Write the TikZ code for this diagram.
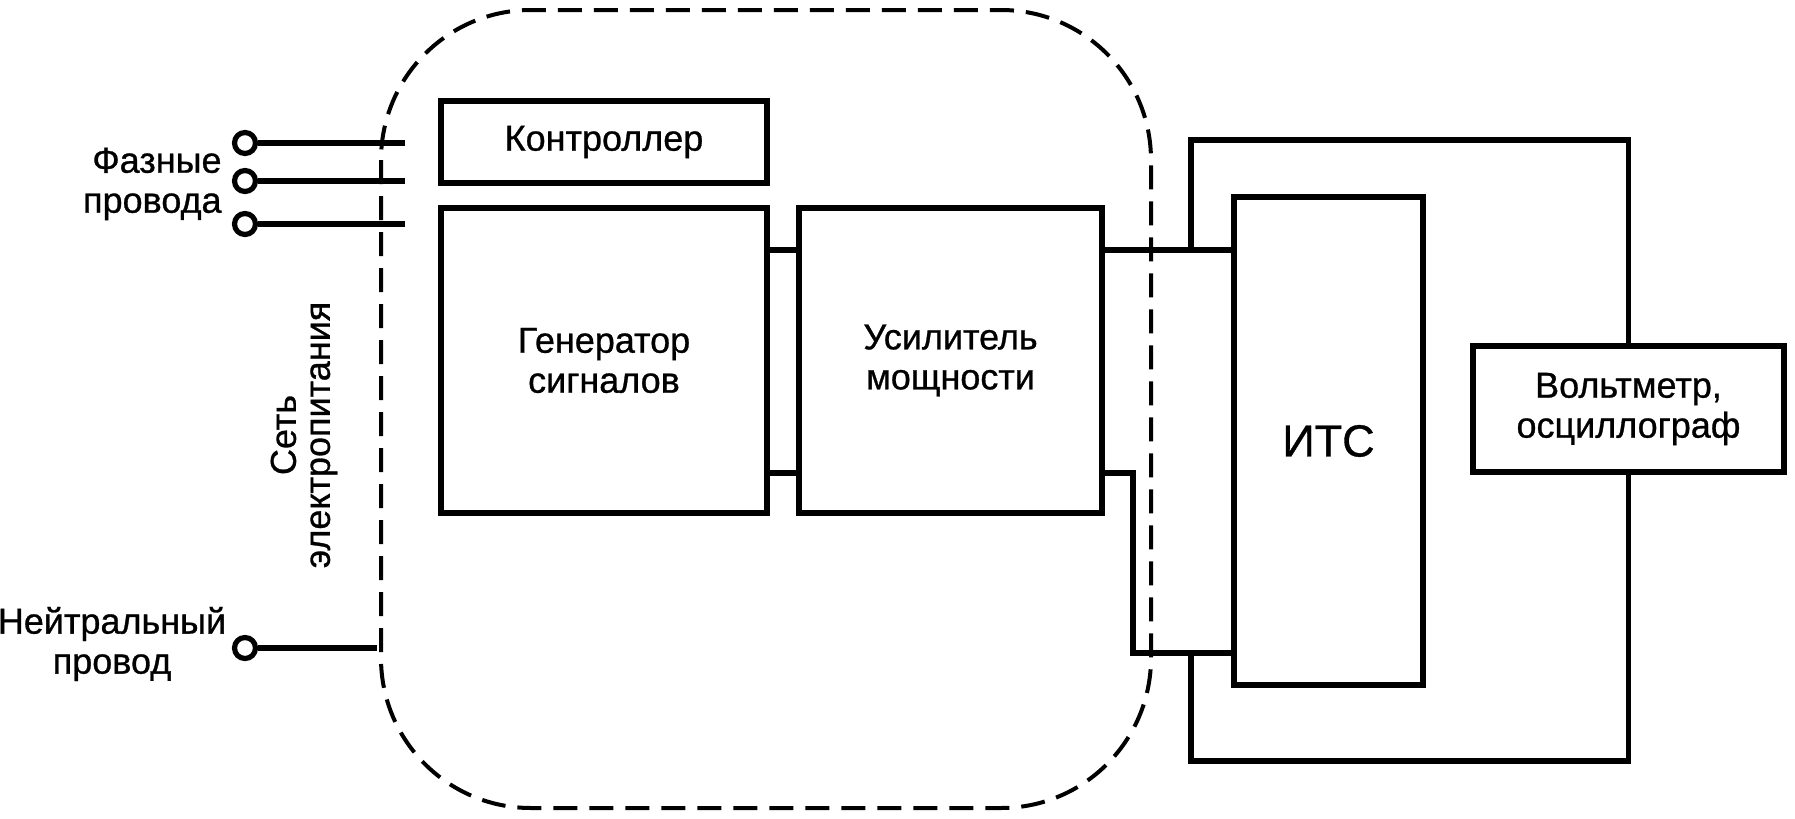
\documentclass[tikz,border=0pt]{standalone}
\usepackage{fontspec}
\setmainfont{Liberation Sans}[FakeBold=0.8]
\begin{document}
\begin{tikzpicture}[x=0.5pt,y=-0.5pt,
  every node/.style={font=\fontsize{18}{20}\selectfont},
  blk/.style={draw,line width=2.8pt,inner sep=0pt,align=center},
  wire/.style={line width=2.8pt},
  term/.style={circle,draw,line width=2.6pt,minimum size=10.5pt,inner sep=0pt,fill=white},
  dashbound/.style={line width=2pt,dash pattern=on 12pt off 6pt}
]
\useasboundingbox (0,0) rectangle (1795,819);
% dashed boundary
\draw[dashbound,rounded corners=75pt] (381,10) rectangle (1151,808);
% blocks
\node[blk,minimum width=163pt,minimum height=41pt] (ctrl) at (604,142) {Контроллер};
\node[blk,minimum width=163pt,minimum height=152.5pt] (gen) at (604,360.5) {Генератор\\сигналов};
\node[blk,minimum width=151.5pt,minimum height=152.5pt] (amp) at (950.5,360.5) {Усилитель\\мощности};
\node[blk,minimum width=94.5pt,minimum height=244pt,font=\fontsize{22.5}{26}\selectfont] (its) at (1328.5,441) {ИТС};
\node[blk,minimum width=155.5pt,minimum height=63pt] (volt) at (1628.5,409) {Вольтметр,\\осциллограф};
% connectors
\draw[wire] (gen.east |- 0,250) -- (amp.west |- 0,250);
\draw[wire] (gen.east |- 0,473) -- (amp.west |- 0,473);
\coordinate (jt) at (1133,473);
\coordinate (jb) at (1133,653);
\draw[wire] (amp.east |- jt) -- (jt) -- (jb) -- (its.west |- jb);
\draw[wire] (amp.east |- 0,250) -- (its.west |- 0,250);
\coordinate (lt) at (1191,250);
\coordinate (lb) at (1191,653);
\draw[wire] (lt) -- (1191,140) -| (volt.north);
\draw[wire] (volt.south) |- (1191,761) -- (lb);
% phase wires
\node[term] (t1) at (245,143) {};
\node[term] (t2) at (245,181) {};
\node[term] (t3) at (245,224) {};
\node[term] (t4) at (245,648) {};
\coordinate (e1) at (405,143);
\coordinate (e2) at (405,181);
\coordinate (e3) at (405,224);
\coordinate (e4) at (377,648);
\draw[wire] (t1) -- (e1);
\draw[wire] (t2) -- (e2);
\draw[wire] (t3) -- (e3);
\draw[wire] (t4) -- (e4);
% labels
\node[align=right,anchor=east,inner sep=0pt] (lphase) at (222,184) {Фазные\\провода};
\node[align=center,inner sep=0pt] (lneut) at (112,644) {Нейтральный\\провод};
\node[align=center,rotate=90,inner sep=0pt,font=\fontsize{18}{17}\selectfont] (lnet) at (304,435) {Сеть\\электропитания};
\end{tikzpicture}
\end{document}
